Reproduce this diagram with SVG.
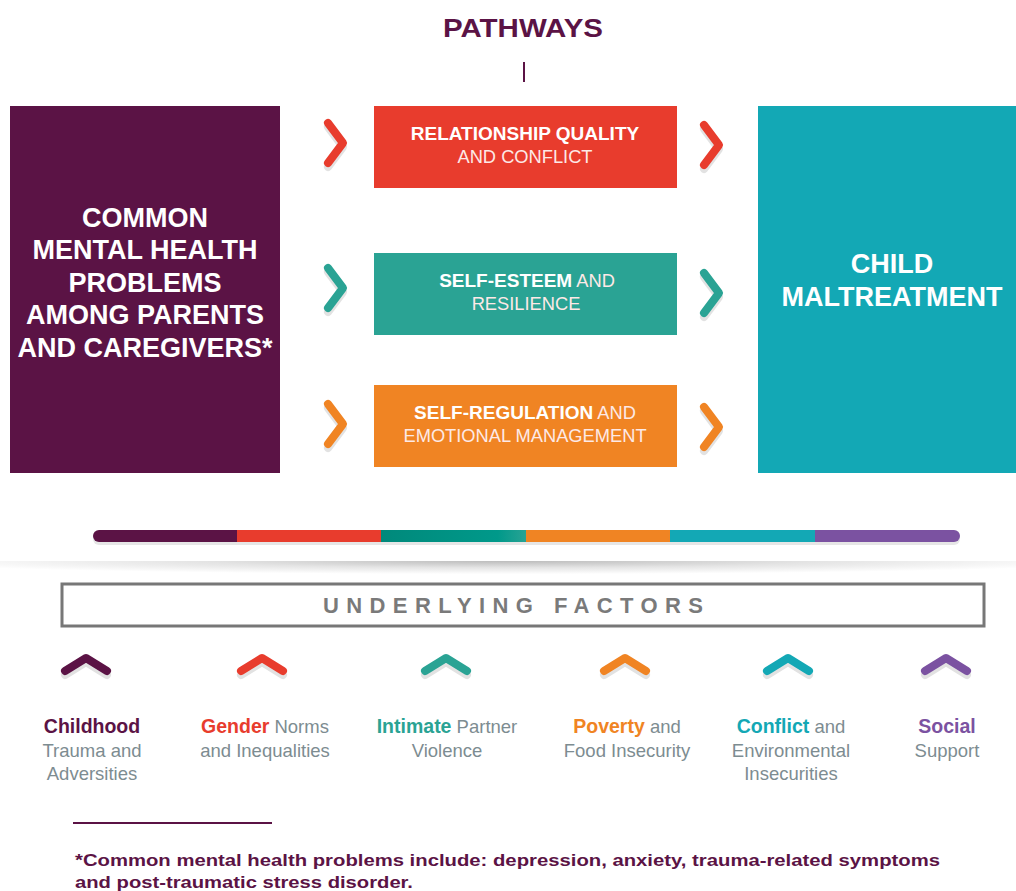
<svg xmlns="http://www.w3.org/2000/svg" width="1016" height="891" viewBox="0 0 1016 891">
<style>
.h{font-family:"Liberation Sans",Arial,sans-serif;font-weight:bold;}
.big{font-family:"Liberation Sans",Arial,sans-serif;font-weight:bold;font-size:27px;fill:#fff;text-anchor:middle;}
.mb{font-family:"Liberation Sans",Arial,sans-serif;font-weight:bold;font-size:19px;fill:#fff;}
.ml{font-family:"Liberation Sans",Arial,sans-serif;font-weight:normal;font-size:18.3px;fill:#fde9e6;}
.fl{font-family:"Liberation Sans",Arial,sans-serif;font-size:18.5px;fill:#7d8c91;text-anchor:middle;}
.fb{font-weight:bold;font-size:19.5px;}
.chev{fill:none;stroke-width:8;stroke-linecap:round;stroke-linejoin:round;}
.sh{fill:none;stroke:#e2e2e2;stroke-width:8;stroke-linecap:round;stroke-linejoin:round;}
</style>
<defs>
<linearGradient id="tg" x1="0" x2="1"><stop offset="0" stop-color="#00897b"/><stop offset="0.8" stop-color="#00998a"/><stop offset="1" stop-color="#2aa394"/></linearGradient>
<radialGradient id="shd" cx="0.5" cy="0" r="0.6"><stop offset="0" stop-color="#bcbcbc"/><stop offset="0.5" stop-color="#e4e4e4"/><stop offset="1" stop-color="#ffffff"/></radialGradient>
</defs>
<rect width="1016" height="891" fill="#fff"/>

<text class="h" x="523" y="37" font-size="26" fill="#5b1345" text-anchor="middle" textLength="160" lengthAdjust="spacingAndGlyphs">PATHWAYS</text>
<line x1="524" y1="62" x2="524" y2="82" stroke="#5b1345" stroke-width="2"/>

<g id="parents">
<rect x="10" y="106" width="270" height="367" fill="#5b1345"/>
<text class="big" x="145"><tspan x="145" y="227">COMMON</tspan><tspan x="145" y="259">MENTAL HEALTH</tspan><tspan x="145" y="292">PROBLEMS</tspan><tspan x="145" y="324">AMONG PARENTS</tspan><tspan x="145" y="357">AND CAREGIVERS*</tspan></text>
</g>

<g id="child">
<rect x="758" y="106" width="258" height="367" fill="#13a8b5"/>
<text class="big" x="892" font-size="29"><tspan x="892" y="273">CHILD</tspan><tspan x="892" y="306">MALTREATMENT</tspan></text>
</g>

<g id="relationship">
<rect x="374" y="106" width="303" height="82" fill="#e83c2d"/>
<text x="525" y="140" text-anchor="middle"><tspan class="mb">RELATIONSHIP QUALITY</tspan></text>
<text x="525" y="163" text-anchor="middle" class="ml">AND CONFLICT</text>
</g>

<g id="selfesteem">
<rect x="374" y="253" width="303" height="82" fill="#2aa394"/>
<text x="527" y="287" text-anchor="middle"><tspan class="mb">SELF-ESTEEM</tspan><tspan class="ml" fill="#e3f4f1"> AND</tspan></text>
<text x="526" y="310" text-anchor="middle" class="ml" fill="#e3f4f1">RESILIENCE</text>
</g>

<g id="selfregulation">
<rect x="374" y="385" width="303" height="82" fill="#f08423"/>
<text x="525" y="419" text-anchor="middle"><tspan class="mb">SELF-REGULATION</tspan><tspan class="ml" fill="#fdeedd"> AND</tspan></text>
<text x="525" y="442" text-anchor="middle" class="ml" fill="#fdeedd">EMOTIONAL MANAGEMENT</text>
</g>

<g id="connectors">
<polyline class="sh" points="328,127 343,147 328,167"/>
<polyline class="chev" stroke="#e83c2d" points="328,123 343,143 328,163"/>
<polyline class="sh" points="704,129 719,149 704,169"/>
<polyline class="chev" stroke="#e83c2d" points="704,125 719,145 704,165"/>
<polyline class="sh" points="328,272 343,292 328,312"/>
<polyline class="chev" stroke="#2aa394" points="328,268 343,288 328,308"/>
<polyline class="sh" points="704,277 719,297 704,317"/>
<polyline class="chev" stroke="#2aa394" points="704,273 719,293 704,313"/>
<polyline class="sh" points="328,408 343,428 328,448"/>
<polyline class="chev" stroke="#f08423" points="328,404 343,424 328,444"/>
<polyline class="sh" points="704,411 719,431 704,451"/>
<polyline class="chev" stroke="#f08423" points="704,407 719,427 704,447"/>
</g>

<g id="colorbar">
<rect x="93" y="533" width="867" height="12" rx="6" fill="#e6e6e6"/>
<clipPath id="bc"><rect x="93" y="530" width="867" height="12" rx="6"/></clipPath>
<g clip-path="url(#bc)">
<rect x="93" y="530" width="145" height="12" fill="#5b1345"/>
<rect x="237" y="530" width="145" height="12" fill="#e83c2d"/>
<rect x="381" y="530" width="146" height="12" fill="url(#tg)"/>
<rect x="526" y="530" width="145" height="12" fill="#f08423"/>
<rect x="670" y="530" width="146" height="12" fill="#13a8b5"/>
<rect x="815" y="530" width="145" height="12" fill="#7b52a1"/>
</g>
</g>

<rect x="0" y="561" width="1016" height="22" fill="url(#shd)"/>

<g id="underlying">
<rect x="62" y="584" width="922" height="42" fill="#fff" stroke="#777" stroke-width="3"/>
<text class="h" x="323" y="613" font-size="22" fill="#7a7a7a" textLength="380" lengthAdjust="spacing">UNDERLYING FACTORS</text>
</g>

<g id="factor-chevrons">
<polyline class="sh" points="65,675 86,662 107,675"/>
<polyline class="chev" stroke="#5b1345" points="65,671 86,658 107,671"/>
<polyline class="sh" points="241,675 262,662 283,675"/>
<polyline class="chev" stroke="#e83c2d" points="241,671 262,658 283,671"/>
<polyline class="sh" points="425,675 446,662 467,675"/>
<polyline class="chev" stroke="#2aa394" points="425,671 446,658 467,671"/>
<polyline class="sh" points="604,675 625,662 646,675"/>
<polyline class="chev" stroke="#f08423" points="604,671 625,658 646,671"/>
<polyline class="sh" points="767,675 788,662 809,675"/>
<polyline class="chev" stroke="#13a8b5" points="767,671 788,658 809,671"/>
<polyline class="sh" points="925,675 946,662 967,675"/>
<polyline class="chev" stroke="#7b52a1" points="925,671 946,658 967,671"/>
</g>

<g id="childhood">
<text class="fl" x="92" y="733"><tspan class="fb" fill="#5b1345">Childhood</tspan></text>
<text class="fl" x="92" y="757">Trauma and</text>
<text class="fl" x="92" y="780">Adversities</text>
</g>
<g id="gender">
<text class="fl" x="265" y="733"><tspan class="fb" fill="#e83c2d">Gender</tspan> Norms</text>
<text class="fl" x="265" y="757">and Inequalities</text>
</g>
<g id="intimate">
<text class="fl" x="447" y="733"><tspan class="fb" fill="#2aa394">Intimate</tspan> Partner</text>
<text class="fl" x="447" y="757">Violence</text>
</g>
<g id="poverty">
<text class="fl" x="627" y="733"><tspan class="fb" fill="#f08423">Poverty</tspan> and</text>
<text class="fl" x="627" y="757">Food Insecurity</text>
</g>
<g id="conflict">
<text class="fl" x="791" y="733"><tspan class="fb" fill="#13a8b5">Conflict</tspan> and</text>
<text class="fl" x="791" y="757">Environmental</text>
<text class="fl" x="791" y="780">Insecurities</text>
</g>
<g id="social">
<text class="fl" x="947" y="733"><tspan class="fb" fill="#7b52a1">Social</tspan></text>
<text class="fl" x="947" y="757">Support</text>
</g>

<line x1="73" y1="823" x2="272" y2="823" stroke="#5b1345" stroke-width="2"/>
<text class="h" x="75" y="866" font-size="17" fill="#5b1345" textLength="865" lengthAdjust="spacingAndGlyphs">*Common mental health problems include: depression, anxiety, trauma-related symptoms</text>
<text class="h" x="75" y="888" font-size="17" fill="#5b1345" textLength="338" lengthAdjust="spacingAndGlyphs">and post-traumatic stress disorder.</text>
</svg>
